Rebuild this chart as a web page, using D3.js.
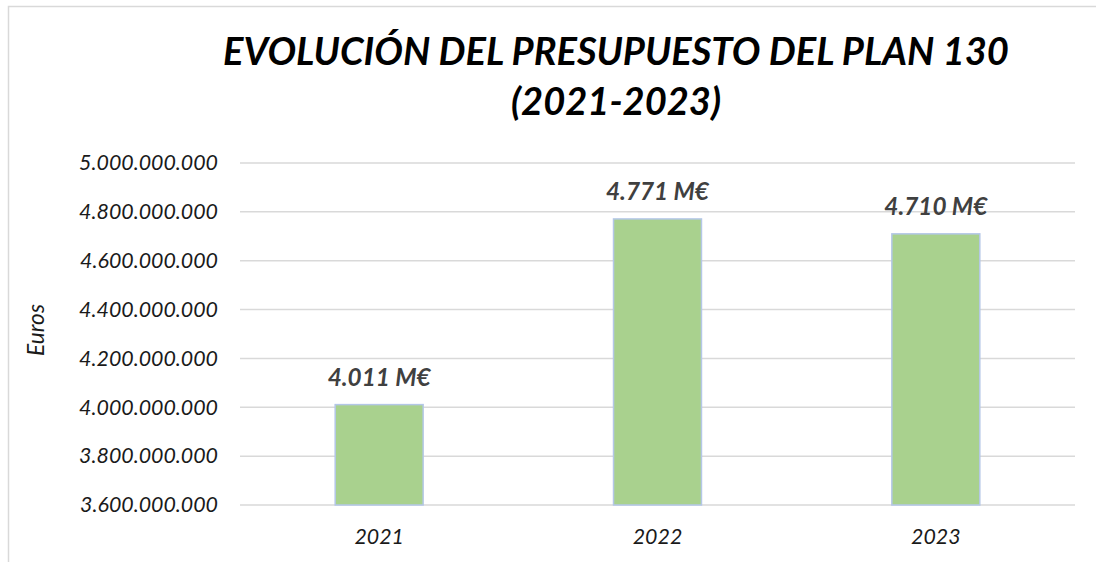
<!DOCTYPE html>
<html>
<head>
<meta charset="utf-8">
<script src="https://cdn.jsdelivr.net/npm/d3@7"></script>
<style>
  body { margin: 0; background: #fff; }
  text { font-family: Lato, "Open Sans", sans-serif; }
</style>
</head>
<body>
<div id="chart"></div>
<script>
// Data
var years = ["2021", "2022", "2023"];
var budget = [4011000000, 4771000000, 4710000000];
var yTicks = [3600000000, 3800000000, 4000000000, 4200000000, 4400000000, 4600000000, 4800000000, 5000000000];
var titleLines = ["EVOLUCIÓN DEL PRESUPUESTO DEL PLAN 130", "(2021-2023)"];
var yAxisTitle = "Euros";

var svgWidth = 1096;
var svgHeight = 562;

// plot area
var margin = { top: 163, right: 21, bottom: 57, left: 240 };
var width = svgWidth - margin.left - margin.right;
var height = svgHeight - margin.top - margin.bottom;

var svg = d3.select("#chart")
  .append("svg")
  .attr("width", svgWidth)
  .attr("height", svgHeight);

// chart border (only top and left visible)
svg.append("rect")
  .attr("x", 8.5)
  .attr("y", 6.5)
  .attr("width", 1200)
  .attr("height", 700)
  .attr("fill", "none")
  .attr("stroke", "#d9d9d9")
  .attr("stroke-width", 1.5);

// spanish number format: 5.000.000.000
var es = d3.formatLocale({ decimal: ",", thousands: ".", grouping: [3], currency: ["", " €"] });
var fmtTick = es.format(",");
var fmtLabel = function(v) { return es.format(",.0f")(v / 1e6) + " M€"; };

// font size that makes a sample string a given width
function fitSize(sample, weight, target) {
  var t = svg.append("text")
    .attr("font-size", 20)
    .attr("font-style", "italic")
    .attr("font-weight", weight)
    .text(sample);
  var w = t.node().getComputedTextLength();
  t.remove();
  return 20 * target / w;
}

var tickSize = fitSize(fmtTick(5000000000), "normal", 139);
var labelSize = fitSize(fmtLabel(4771000000), "bold", 103);
var titleSize = fitSize(titleLines[0], "bold", 786);
var euroSize = fitSize(yAxisTitle, "normal", 52);

var chartGroup = svg.append("g")
  .attr("transform", `translate(${margin.left}, ${margin.top})`);

var xScale = d3.scaleBand()
  .domain(years)
  .range([0, width])
  .paddingInner(0.684)
  .paddingOuter(0.342);

var yScale = d3.scaleLinear()
  .domain([3600000000, 5000000000])
  .range([height, 0]);

// gridlines
chartGroup.append("g")
  .selectAll("line")
  .data(yTicks)
  .enter()
  .append("line")
  .attr("x1", 0)
  .attr("x2", width)
  .attr("y1", d => yScale(d))
  .attr("y2", d => yScale(d))
  .attr("stroke", "#d9d9d9")
  .attr("stroke-width", 1.5);

// y axis labels
var leftAxis = d3.axisLeft(yScale).tickValues(yTicks).tickFormat(fmtTick).tickSize(0).tickPadding(22);
var yAxisG = chartGroup.append("g").call(leftAxis);
yAxisG.select(".domain").remove();
yAxisG.selectAll("text")
  .attr("font-size", tickSize)
  .attr("font-style", "italic")
  .attr("fill", "#1a1a1a")
  .attr("font-family", "Lato, 'Open Sans', sans-serif");

// x axis labels
var bottomAxis = d3.axisBottom(xScale).tickSize(0).tickPadding(24);
var xAxisG = chartGroup.append("g")
  .attr("transform", `translate(0, ${height})`)
  .call(bottomAxis);
xAxisG.select(".domain").remove();
xAxisG.selectAll("text")
  .attr("font-size", tickSize)
  .attr("font-style", "italic")
  .attr("fill", "#1a1a1a")
  .attr("font-family", "Lato, 'Open Sans', sans-serif");

// bars
chartGroup.selectAll(".bar")
  .data(budget)
  .enter()
  .append("rect")
  .attr("class", "bar")
  .attr("x", (d, i) => xScale(years[i]))
  .attr("width", xScale.bandwidth())
  .attr("y", d => yScale(d))
  .attr("height", d => height - yScale(d))
  .attr("fill", "#a9d18e")
  .attr("stroke", "#b4c7e7")
  .attr("stroke-width", 1.5);

// value labels
chartGroup.selectAll(".valueLabel")
  .data(budget)
  .enter()
  .append("text")
  .attr("class", "valueLabel")
  .attr("x", (d, i) => xScale(years[i]) + xScale.bandwidth() / 2)
  .attr("y", d => yScale(d) - 19)
  .attr("text-anchor", "middle")
  .attr("font-size", labelSize)
  .attr("font-style", "italic")
  .attr("font-weight", "bold")
  .attr("fill", "#404040")
  .text(d => fmtLabel(d));

// title
svg.selectAll(".title")
  .data(titleLines)
  .enter()
  .append("text")
  .attr("class", "title")
  .attr("x", 616)
  .attr("y", (d, i) => 65 + i * 50)
  .attr("text-anchor", "middle")
  .attr("font-size", titleSize)
  .attr("font-style", "italic")
  .attr("font-weight", "bold")
  .attr("fill", "#000")
  .text(d => d);

// y axis title
svg.append("text")
  .attr("transform", `translate(44, ${margin.top + height / 2 - 4}) rotate(-90)`)
  .attr("text-anchor", "middle")
  .attr("font-size", euroSize)
  .attr("font-style", "italic")
  .attr("fill", "#1a1a1a")
  .text(yAxisTitle);
</script>
</body>
</html>
